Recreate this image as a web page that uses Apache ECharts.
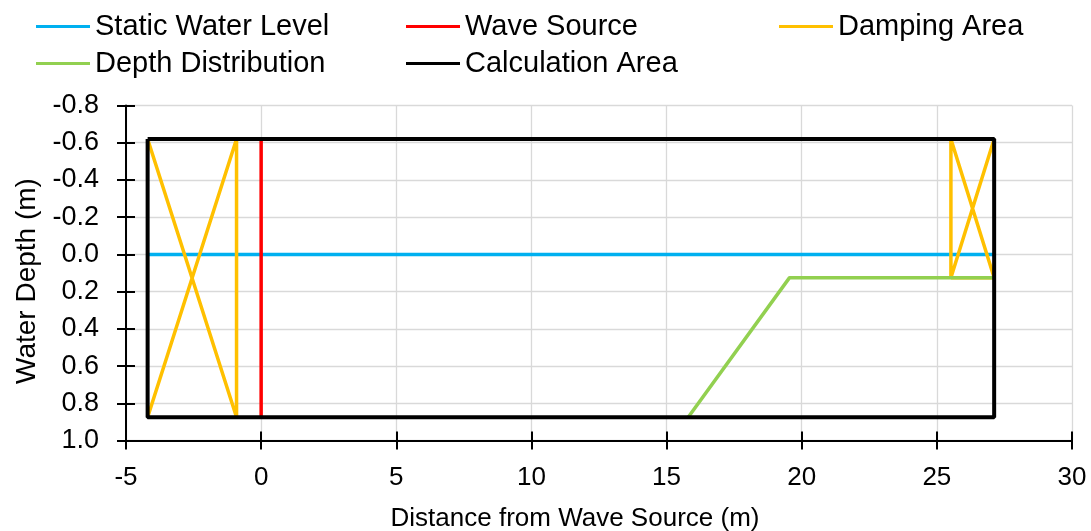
<!DOCTYPE html>
<html>
<head>
<meta charset="utf-8">
<script src="https://cdn.jsdelivr.net/npm/echarts@6/dist/echarts.min.js"></script>
<style>
html,body{margin:0;padding:0;background:#fff;}
#chart{width:1091px;height:531px;}
</style>
</head>
<body>
<div id="chart"></div>
<script>
// ---- data ----
const seriesNames = ["Static Water Level", "Wave Source", "Damping Area", "Depth Distribution", "Calculation Area"];
const seriesColors = ["#00B0F0", "#FF0000", "#FFC000", "#92D050", "#000000"];

const staticWaterLevel = [[-4.2, 0.0], [27.12, 0.0]];
const waveSource = [[0, -0.62], [0, 0.875]];
const dampingLeft = [[-4.2, -0.62], [-0.91, 0.875], [-0.91, -0.62], [-4.2, 0.875]];
const dampingRight = [[27.12, -0.62], [25.52, 0.125], [25.52, -0.62], [27.12, 0.125], [25.52, 0.125]];
const depthDistribution = [[15.8, 0.875], [19.55, 0.125], [27.12, 0.125]];
const calculationArea = [[-4.2, -0.62], [27.12, -0.62], [27.12, 0.875], [-4.2, 0.875], [-4.2, -0.62]];

const xTicks = { min: -5, max: 30, interval: 5 };
const yTicks = { min: -0.8, max: 1.0, interval: 0.2 };
const xTitle = "Distance from Wave Source (m)";
const yTitle = "Water Depth (m)";

// ---- chart ----
const FONT = "'Liberation Sans', Arial, sans-serif";
const chart = echarts.init(document.getElementById('chart'), null, {renderer: 'canvas'});

const dampingData = dampingLeft.concat([[null, null]], dampingRight);

function lineSeries(name, data, idx, z) {
  return {
    name: name, type: 'line', data: data, xAxisIndex: 0, yAxisIndex: 0,
    symbol: 'none', showSymbol: false, connectNulls: false, silent: true, z: z,
    lineStyle: { color: seriesColors[idx], width: idx === 4 ? 4 : 3.5, join: 'bevel', cap: 'butt' },
    itemStyle: { color: seriesColors[idx] }
  };
}

function legendCol(left, names) {
  return {
    orient: 'vertical', left: left, top: 12, itemGap: 8, padding: 0,
    itemWidth: 54, itemHeight: 3, icon: 'rect',
    data: names, selectedMode: false,
    textStyle: { fontFamily: FONT, fontSize: 29, color: '#000', lineHeight: 29, padding: [0,0,0,0] }
  };
}

const axisCommonX = {
  type: 'value', min: xTicks.min, max: xTicks.max, interval: xTicks.interval,
  position: 'bottom'
};
const axisCommonY = {
  type: 'value', min: yTicks.min, max: yTicks.max, interval: yTicks.interval,
  inverse: true, position: 'left'
};

chart.setOption({
  animation: false,
  backgroundColor: '#fff',
  grid: { left: 126, right: 19, top: 105.5, bottom: 90.5, containLabel: false, outerBoundsMode: 'none' },
  legend: [
    legendCol(36, [seriesNames[0], seriesNames[3]]),
    legendCol(406, [seriesNames[1], seriesNames[4]]),
    legendCol(779, [seriesNames[2]])
  ],
  xAxis: [
    Object.assign({}, axisCommonX, {
      name: xTitle, nameLocation: 'middle', nameGap: 65,
      nameTextStyle: { fontFamily: FONT, fontSize: 26, color: '#000', padding: [0, 48, 0, 0] },
      axisLine: { show: true, onZero: false, lineStyle: { color: '#000', width: 2 } },
      axisTick: { show: true, inside: false, length: 9, lineStyle: { color: '#000', width: 2 } },
      axisLabel: { fontFamily: FONT, fontSize: 26, color: '#000', margin: 24 },
      splitLine: { show: true, lineStyle: { color: '#D9D9D9', width: 1.3 } }
    }),
    Object.assign({}, axisCommonX, {
      axisLine: { show: false, onZero: false },
      axisTick: { show: true, inside: true, length: 9, lineStyle: { color: '#000', width: 2 } },
      axisLabel: { show: false },
      splitLine: { show: false }
    })
  ],
  yAxis: [
    Object.assign({}, axisCommonY, {
      name: yTitle, nameLocation: 'middle', nameGap: 84, nameRotate: 90,
      nameTextStyle: { fontFamily: FONT, fontSize: 28, color: '#000', padding: [0, 16, 0, 0] },
      axisLine: { show: true, onZero: false, lineStyle: { color: '#000', width: 2 } },
      axisTick: { show: true, inside: false, length: 9, lineStyle: { color: '#000', width: 2 } },
      axisLabel: { fontFamily: FONT, fontSize: 27, color: '#000', margin: 27,
        formatter: function (v) { return (Math.abs(v) < 1e-9 ? 0 : v).toFixed(1); } },
      splitLine: { show: true, lineStyle: { color: '#D9D9D9', width: 1.3 } }
    }),
    Object.assign({}, axisCommonY, {
      axisLine: { show: false, onZero: false },
      axisTick: { show: true, inside: true, length: 9, lineStyle: { color: '#000', width: 2 } },
      axisLabel: { show: false },
      splitLine: { show: false }
    })
  ],
  series: [
    lineSeries(seriesNames[0], staticWaterLevel, 0, 2),
    lineSeries(seriesNames[1], waveSource, 1, 3),
    lineSeries(seriesNames[2], dampingData, 2, 4),
    lineSeries(seriesNames[3], depthDistribution, 3, 5),
    lineSeries(seriesNames[4], calculationArea, 4, 6)
  ]
});
</script>
</body>
</html>
